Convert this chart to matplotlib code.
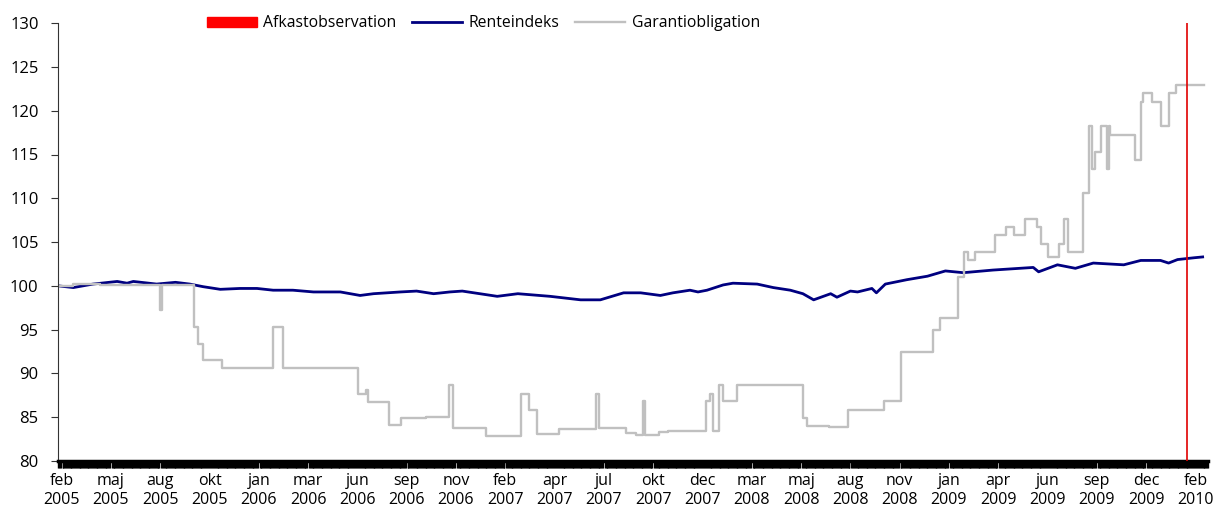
import numpy as np
import matplotlib
matplotlib.use("Agg")
import matplotlib.pyplot as plt
from matplotlib.ticker import MultipleLocator
from matplotlib.patches import Patch

plt.rcParams['font.family'] = ['Open Sans', 'DejaVu Sans']

# x axis is a trading-day index, labels every 55 days
tick_labels = ["feb\n2005", "maj\n2005", "aug\n2005", "okt\n2005", "jan\n2006", "mar\n2006",
               "jun\n2006", "sep\n2006", "nov\n2006", "feb\n2007", "apr\n2007", "jul\n2007",
               "okt\n2007", "dec\n2007", "mar\n2008", "maj\n2008", "aug\n2008", "nov\n2008",
               "jan\n2009", "apr\n2009", "jun\n2009", "sep\n2009", "dec\n2009", "feb\n2010"]
tick_pos = [4 + 55 * k for k in range(len(tick_labels))]

# Renteindeks
rente_x = [0, 17, 39, 66, 77, 84, 110, 131, 147, 162, 181, 203, 222, 240, 262, 285, 315, 337,
           352, 382, 400, 419, 437, 451, 490, 513, 549, 583, 605, 631, 650, 672, 686, 705, 714,
           724, 742, 753, 780, 798, 817, 831, 843, 862, 869, 884, 892, 908, 913, 923, 947, 970,
           990, 1010, 1043, 1088, 1094, 1115, 1135, 1155, 1189, 1208, 1230, 1239, 1249, 1267, 1277]
rente_y = [100.0, 99.8, 100.2, 100.5, 100.3, 100.5, 100.2, 100.4, 100.2, 99.9, 99.6, 99.7, 99.7,
           99.5, 99.5, 99.3, 99.3, 98.9, 99.1, 99.3, 99.4, 99.1, 99.3, 99.4, 98.8, 99.1, 98.8,
           98.4, 98.4, 99.2, 99.2, 98.9, 99.2, 99.5, 99.3, 99.5, 100.1, 100.3, 100.2, 99.8, 99.5,
           99.1, 98.4, 99.1, 98.7, 99.4, 99.3, 99.7, 99.2, 100.2, 100.7, 101.1, 101.7, 101.5,
           101.8, 102.1, 101.6, 102.4, 102.0, 102.6, 102.4, 102.9, 102.9, 102.6, 103.0, 103.2, 103.3]

# Garantiobligation, step changes (day index where level starts, level)
garanti_x = [0, 17, 47, 114, 116, 152, 156, 162, 183, 240, 251, 335, 344, 346, 369, 383, 411,
             436, 441, 477, 517, 526, 534, 559, 600, 603, 634, 645, 653, 655, 670, 681, 723, 727,
             731, 737, 742, 757, 831, 836, 860, 881, 921, 941, 976, 984, 1004, 1011, 1015, 1023,
             1045, 1058, 1067, 1079, 1092, 1097, 1104, 1117, 1122, 1127, 1144, 1150, 1153, 1157,
             1164, 1170, 1172, 1174, 1202, 1208, 1210, 1220, 1230, 1239, 1247, 1278]
garanti_y = [100.0, 100.2, 100.1, 97.2, 100.1, 95.3, 93.4, 91.5, 90.6, 95.3, 90.6, 87.7, 88.1,
             86.7, 84.1, 84.9, 85.0, 88.7, 83.8, 82.9, 87.7, 85.8, 83.1, 83.6, 87.7, 83.8, 83.2,
             83.0, 86.8, 83.0, 83.3, 83.4, 86.8, 87.7, 83.4, 88.7, 86.9, 88.7, 84.9, 84.0, 83.9,
             85.8, 86.8, 92.4, 95.0, 96.3, 101.0, 103.9, 102.9, 103.9, 105.8, 106.7, 105.8, 107.6,
             106.7, 104.8, 103.3, 104.8, 107.6, 103.9, 110.6, 118.2, 113.4, 115.3, 118.2, 113.4,
             118.2, 117.2, 114.4, 121.0, 122.0, 121.0, 118.2, 122.0, 122.9, 122.9]

# Afkastobservation: one observation day
obs_x = [1260]
obs_top = [130]

fig = plt.figure(figsize=(12.19, 5.15), dpi=100)
ax = fig.add_axes([0.0476, 0.105, 0.9434, 0.850])

ax.vlines(obs_x, 80, obs_top, color="#e00000", lw=1.2, zorder=3)
l_rente, = ax.plot(rente_x, rente_y, color="#000080", lw=2.0, label="Renteindeks")
l_gar, = ax.step(garanti_x, garanti_y, where="post", color="#c0c0c0", lw=1.7,
                 label="Garantiobligation")

ax.set_ylim(80, 130)
ax.set_xlim(0, 1283)
ax.set_yticks(np.arange(80, 131, 5))
ax.set_xticks(tick_pos)
ax.set_xticklabels(tick_labels)
ax.xaxis.set_minor_locator(MultipleLocator(1))
ax.tick_params(axis="x", which="major", length=0, pad=9, labelsize=11.5)
ax.tick_params(axis="x", which="minor", length=5, width=1, color="black", direction="out")
ax.tick_params(axis="y", length=5, width=0.8, color="#333333", labelsize=12, pad=9)

for s in ["top", "right"]:
    ax.spines[s].set_visible(False)
ax.spines["left"].set_color("#333333")
ax.spines["bottom"].set_color("black")
ax.spines["bottom"].set_linewidth(2.5)

obs_patch = Patch(color="red", label="Afkastobservation")
ax.legend(handles=[obs_patch, l_rente, l_gar], loc="upper left", bbox_to_anchor=(0.117, 1.05),
          ncol=3, frameon=False, fontsize=11.3, handlelength=3.2, handleheight=0.55,
          columnspacing=1.0, handletextpad=0.4)

fig.savefig("out.png", dpi=100)
